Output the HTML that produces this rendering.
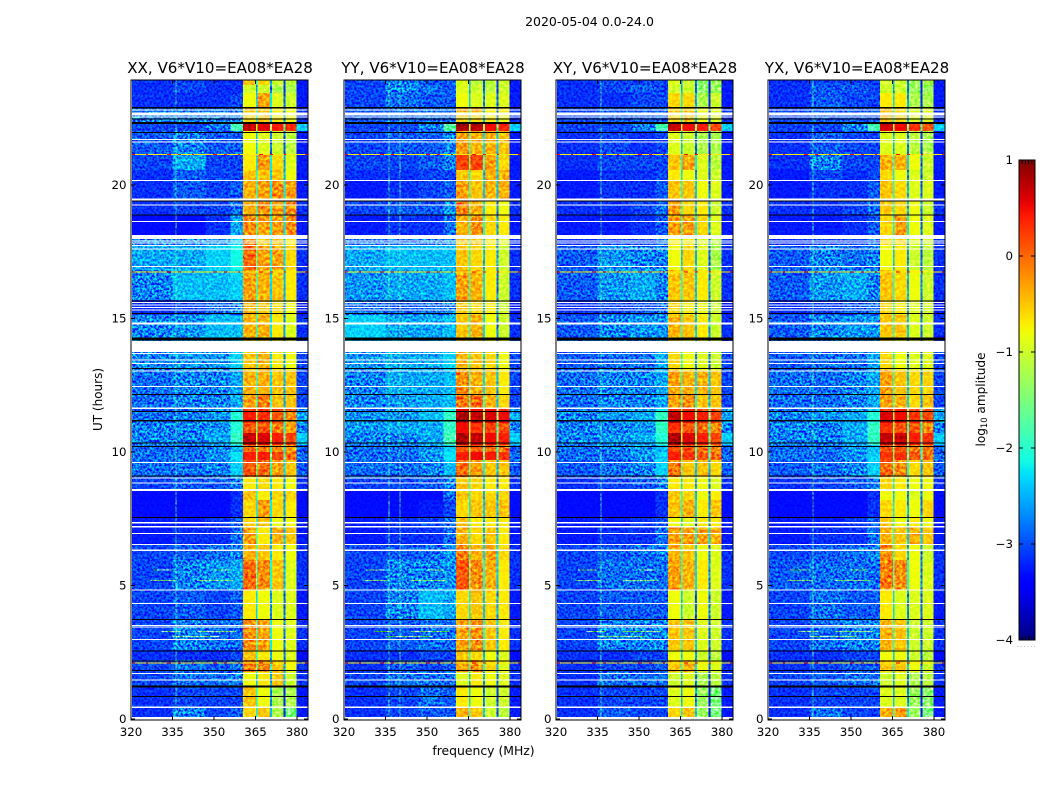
<!DOCTYPE html>
<html lang="en">
<head>
<meta charset="utf-8">
<title>2020-05-04 0.0-24.0 dynamic spectra</title>
<style>
html,body{margin:0;padding:0;background:#fff;}
svg{display:block;}
text{font-family:"DejaVu Sans","Liberation Sans",sans-serif;fill:#000;}
</style>
</head>
<body>
<svg id="chart" xmlns="http://www.w3.org/2000/svg" width="1050" height="800" viewBox="0 0 1050 800">
  <defs>
    <filter id="speckle" filterUnits="objectBoundingBox" x="0" y="0" width="1" height="1" color-interpolation-filters="sRGB">
      <feTurbulence type="fractalNoise" baseFrequency="0.42" numOctaves="2" seed="7"/>
      <feColorMatrix type="matrix" values="2.4 0 0 0 -0.7  2.4 0 0 0 -0.7  2.4 0 0 0 -0.7  0 0 0 0 1"/>
    </filter>
    <filter id="speckle-soft" filterUnits="objectBoundingBox" x="0" y="0" width="1" height="1" color-interpolation-filters="sRGB">
      <feTurbulence type="fractalNoise" baseFrequency="0.33" numOctaves="2" seed="11"/>
      <feColorMatrix type="matrix" values="1.5 0 0 0 -0.25  1.5 0 0 0 -0.25  1.5 0 0 0 -0.25  0 0 0 0 1"/>
    </filter>
    <linearGradient id="jet-gradient" x1="0" y1="1" x2="0" y2="0"></linearGradient>
  </defs>
  <rect width="1050" height="800" fill="#fff"/>
  <text x="589.5" y="26" text-anchor="middle" font-size="12.5">2020-05-04 0.0-24.0</text>
  <text x="483.5" y="755" text-anchor="middle" font-size="12.4">frequency (MHz)</text>
  <text transform="translate(102,399.5) rotate(-90)" text-anchor="middle" font-size="12">UT (hours)</text>
  <text transform="translate(985,399.5) rotate(-90)" text-anchor="middle" font-size="12.1">log<tspan font-size="8.4" dy="2">10</tspan><tspan dy="-2"> amplitude</tspan></text>
  <text x="1017" y="647" font-size="6" letter-spacing="1.4" style="fill:#777">......</text>
  <g id="panels"></g>
  <g id="colorbar"></g>
</svg>
<script>
const panelTitles = ["XX, V6*V10=EA08*EA28", "YY, V6*V10=EA08*EA28", "XY, V6*V10=EA08*EA28", "YX, V6*V10=EA08*EA28"];
const freqTicks = [320, 335, 350, 365, 380];
const hourTicks = [0, 5, 10, 15, 20];
const colorbarTicks = [1, 0, -1, -2, -3, -4];
const colorbarMinor = [0.2, 0.4, 0.6, 0.8];

/* frequency channel edges, MHz: 4 low zones, band, gap, band, gap, band, gap, band, tail */
const freqEdges = [320.3, 335, 347, 356, 360.5, 365.1, 365.8, 370.2, 370.9, 375.2, 375.9, 379.9, 384];
/* time bin edges, UT hours */
const timeEdges = [0.07,0.45,1.24,1.76,2.21,2.58,3.71,4.83,5.96,6.52,7.19,7.57,8.20,8.58,9.06,9.70,10.0,10.26,10.71,11.09,11.50,11.65,12.13,13.07,13.75,14.19,15.13,15.69,16.82,17.75,18.13,18.88,19.44,20.19,20.56,21.16,22.02,22.28,22.73,22.92,23.45,23.75,23.93];

/* log10 amplitude per time bin: low1, low2, low3, low4, band1, band2, band3, band4 */
const xxLevels = [
[-3.0,-2.6,-2.9,-2.8,-.6,-.5,-1.2,-1.5],[-3.0,-2.9,-2.9,-2.9,-.5,-.8,-1.2,-1.2],[-2.9,-2.7,-2.7,-2.6,-.8,-.7,-.5,-1.0],[-2.9,-2.7,-2.8,-2.7,-.1,-.1,-.5,-.8],[-3.0,-3.0,-3.0,-2.9,-.5,-.7,-.8,-.9],[-2.9,-2.6,-2.7,-2.7,-.2,-.3,-.8,-.9],[-2.9,-2.8,-2.9,-2.8,-.7,-.8,-.9,-.9],
[-2.9,-2.6,-2.5,-2.4,0,-.2,-.5,-.9],[-2.9,-2.8,-2.7,-2.6,-.4,-.5,-.7,-.8],[-3.1,-3.0,-3.0,-2.7,-.3,-.7,-.4,-.5],[-3.1,-3.1,-3.0,-2.8,-.6,-.5,-.8,-.8],[-3.3,-3.3,-3.2,-3.0,-.6,-.3,-.6,-.7],[-3.3,-3.3,-3.2,-3.0,-.5,-.7,-.6,-.6],[-2.9,-2.8,-2.8,-2.6,-.7,-.6,-.7,-.8],
[-2.7,-2.7,-2.6,-2.2,.1,0,-.3,-.5],[-2.7,-2.7,-2.5,-2.1,.4,.4,.2,0],[-2.7,-2.7,-2.6,-2.3,0,-.1,-.2,-.3],[-2.6,-2.6,-2.4,-1.8,.7,.6,.4,.2],[-2.6,-2.6,-2.5,-1.9,.1,.1,-.1,-.3],[-2.7,-2.6,-2.5,-1.9,.4,.3,.1,-.2],[-2.8,-2.7,-2.6,-2.2,.3,.3,.2,.1],
[-2.7,-2.6,-2.6,-2.4,-.3,-.1,-.5,-.5],[-2.7,-2.6,-2.6,-2.4,-.4,-.4,-.5,-.5],[-2.6,-2.5,-2.5,-2.2,-.5,-.4,-.7,-.8],[-2.5,-2.4,-2.4,-2.2,-.5,-.5,-.7,-.9],[-2.6,-2.5,-2.3,-2.3,-.4,-.4,-.7,-.9],[-3.0,-2.9,-2.7,-2.6,-.4,-.5,-.6,-.8],[-2.6,-2.3,-2.3,-2.2,-.3,-.4,-.5,-.7],
[-2.4,-2.4,-2.2,-2.0,0,-.3,-.3,-.6],[-2.6,-2.6,-2.5,-2.2,-.1,-.5,-.5,-.7],[-3.2,-3.2,-3.0,-2.4,-.2,-.3,-.3,-.2],[-3.0,-2.9,-2.9,-2.7,-.4,-.2,-.3,-.2],[-3.0,-2.8,-2.9,-2.8,-.4,-.3,-.2,-.3],[-3.0,-2.8,-2.9,-2.9,-.5,-.5,-.5,-.8],[-2.9,-2.4,-2.9,-2.9,-.7,-.3,-.6,-.9],
[-2.8,-2.6,-2.8,-2.8,-.8,-.9,-1.0,-1.1],[-2.9,-2.9,-2.7,-1.7,.7,.6,.4,.3],[-2.6,-2.6,-2.6,-2.6,-.6,-.5,-.7,-.8],[-2.7,-2.7,-2.7,-2.7,-.5,-.5,-.7,-.8],[-3.0,-3.0,-3.0,-2.9,-.8,-.3,-.9,-1.0],[-3.0,-2.9,-3.0,-3.0,-1.0,-1.0,-1.2,-1.2],[-3.0,-2.9,-3.0,-3.0,-.5,-.6,-1.0,-1.1]];
const yyLevels = [
[-3.0,-2.9,-2.8,-2.8,-.4,-.5,-1.0,-1.1],[-3.0,-2.9,-2.7,-2.8,-.7,-.8,-1.0,-1.0],[-2.9,-2.7,-2.7,-2.7,-.9,-.7,-.8,-.9],[-3.0,-2.8,-2.9,-2.8,-.3,-.2,-.6,-.9],[-3.0,-3.0,-2.9,-2.9,-.5,-.6,-.8,-.9],[-2.9,-2.8,-2.7,-2.7,-.3,-.2,-.5,-.7],[-2.9,-2.6,-2.3,-2.4,-.6,-.5,-.6,-.7],
[-2.9,-2.6,-2.6,-2.5,.1,-.2,-.4,-.7],[-2.9,-2.8,-2.7,-2.5,-.1,-.4,-.3,-.6],[-3.1,-3.0,-3.0,-2.7,-.4,-.6,-.5,-.7],[-3.1,-3.0,-2.9,-2.7,-.5,-.7,-.7,-.7],[-3.3,-3.3,-3.1,-2.9,-.6,-.5,-.5,-.5],[-3.3,-3.3,-3.2,-2.7,-.5,-.6,-.6,-.6],[-2.9,-2.9,-2.8,-2.6,-.5,-.6,-.7,-.7],
[-2.7,-2.7,-2.6,-2.3,0,-.3,-.5,-.5],[-2.7,-2.7,-2.5,-2.1,.4,.5,.4,.3],[-2.7,-2.7,-2.5,-2.2,.1,.1,0,-.1],[-2.6,-2.6,-2.4,-1.7,.8,.7,.5,.4],[-2.5,-2.4,-2.4,-1.8,.5,.3,.2,.1],[-2.5,-2.5,-2.3,-1.8,.8,.7,.6,.5],[-2.7,-2.6,-2.4,-2.0,.6,.5,.5,.3],
[-2.6,-2.5,-2.4,-2.3,-.1,0,-.4,-.6],[-2.6,-2.4,-2.4,-2.3,-.2,-.4,-.5,-.7],[-2.5,-2.4,-2.4,-2.2,-.4,-.5,-.6,-.8],[-2.3,-2.3,-2.3,-2.2,-.5,-.5,-.7,-.9],[-2.2,-2.4,-2.4,-2.3,-.5,-.4,-.8,-1.0],[-2.7,-2.8,-2.7,-2.6,-.5,-.6,-.7,-1.0],[-2.5,-2.4,-2.4,-2.3,-.3,-.4,-.7,-1.0],
[-2.4,-2.3,-2.3,-2.3,-.5,-.6,-.7,-1.0],[-2.7,-2.7,-2.6,-2.5,-.5,-.5,-.7,-.9],[-3.1,-3.0,-3.0,-2.7,-.4,-.2,-.6,-.7],[-2.9,-2.8,-2.8,-2.5,-.1,-.4,-.7,-.8],[-3.1,-3.0,-2.9,-2.8,-.3,-.5,-.4,-.4],[-3.0,-3.0,-2.9,-2.9,-.5,-.6,-.4,-.4],[-2.9,-2.9,-2.8,-2.6,.2,.2,-.3,-.6],
[-2.9,-2.8,-2.8,-2.6,-.3,-.4,-.4,-.5],[-2.9,-2.9,-2.6,-1.6,.8,.75,.5,.35],[-2.8,-2.7,-2.7,-2.7,-.6,-.6,-.7,-.8],[-2.8,-2.7,-2.7,-2.7,-.4,-.4,-.7,-.7],[-2.9,-2.7,-2.8,-2.8,-.8,-.9,-.9,-.9],[-2.9,-2.6,-2.7,-2.8,-.9,-1.0,-1.1,-1.0],[-2.9,-2.6,-2.8,-2.8,-.9,-1.1,-1.1,-1.0]];
const xyLevels = [
[-3.0,-2.8,-2.9,-2.9,-.6,-.5,-1.3,-1.5],[-3.0,-2.9,-2.9,-2.9,-.9,-.8,-1.3,-1.5],[-3.0,-2.7,-2.7,-2.7,-1.0,-.9,-1.2,-1.1],[-3.0,-2.9,-2.9,-2.8,-.5,-.4,-.8,-.9],[-3.0,-3.0,-2.9,-2.9,-.8,-.8,-1.0,-1.1],[-2.9,-2.6,-2.6,-2.6,-.5,-.5,-.9,-1.0],[-2.9,-2.8,-2.8,-2.8,-.8,-1.0,-.8,-1.0],
[-2.9,-2.7,-2.7,-2.7,-.3,-.4,-.7,-.9],[-2.9,-2.8,-2.7,-2.6,-.4,-.5,-.8,-.9],[-3.1,-3.0,-3.0,-2.7,-.3,-.3,-.3,-.4],[-3.1,-3.1,-3.0,-2.8,-.8,-.9,-.7,-.7],[-3.3,-3.3,-3.2,-3.0,-.5,-.4,-.7,-.5],[-3.3,-3.3,-3.2,-3.0,-.5,-.6,-.8,-.7],[-3.0,-2.9,-2.8,-2.6,-.7,-.7,-.8,-.9],
[-2.8,-2.7,-2.6,-2.2,-.1,-.5,-.5,-.6],[-2.7,-2.7,-2.5,-2.2,.4,.3,.1,0],[-2.7,-2.6,-2.5,-2.3,.2,.1,-.1,-.2],[-2.6,-2.5,-2.4,-1.9,.8,.6,.4,.2],[-2.6,-2.6,-2.5,-1.8,.3,.1,0,-.2],[-2.6,-2.5,-2.4,-1.8,.7,.5,.4,.2],[-2.7,-2.6,-2.5,-2.1,.3,.4,.2,0],
[-2.7,-2.6,-2.6,-2.4,-.3,-.2,-.5,-.5],[-2.7,-2.6,-2.6,-2.4,-.3,-.4,-.4,-.5],[-2.8,-2.7,-2.7,-2.4,-.6,-.8,-.9,-1.0],[-2.7,-2.6,-2.6,-2.4,-.6,-.8,-.9,-1.0],[-2.8,-2.6,-2.5,-2.5,-.4,-.5,-.7,-1.0],[-3.0,-2.9,-2.8,-2.7,-.6,-.7,-.8,-1.0],[-2.8,-2.5,-2.4,-2.6,-.5,-.5,-.7,-1.0],
[-2.8,-2.5,-2.6,-2.6,-.8,-.6,-.9,-1.2],[-3.0,-2.9,-2.9,-2.7,-.7,-.7,-.9,-1.1],[-3.1,-3.1,-3.0,-2.8,-.3,-.3,-.6,-.9],[-3.0,-3.0,-2.9,-2.7,-.3,-.6,-.7,-1.0],[-3.1,-3.0,-3.0,-2.8,-.5,-.5,-.8,-.9],[-3.1,-3.0,-3.0,-2.9,-.7,-.8,-.9,-1.0],[-3.0,-2.9,-2.9,-2.9,-.5,-.3,-.9,-1.1],
[-3.0,-2.9,-3.0,-2.9,-.9,-1.0,-1.2,-1.2],[-2.9,-2.9,-2.6,-1.7,.7,.5,.4,.2],[-2.9,-2.8,-2.8,-2.8,-.6,-.5,-.8,-.9],[-2.9,-2.8,-2.8,-2.8,-.5,-.5,-.8,-.9],[-3.0,-3.0,-2.9,-2.9,-.6,-.6,-1.2,-1.0],[-3.0,-2.9,-2.8,-2.9,-1.0,-1.0,-1.4,-1.3],[-3.0,-2.9,-2.9,-2.9,-.9,-1.0,-1.4,-1.3]];
const yxLevels = [
[-3.0,-2.7,-2.9,-2.9,-.4,-.3,-1.3,-1.5],[-3.0,-2.9,-2.9,-2.9,-.9,-.9,-1.3,-1.4],[-2.9,-2.8,-2.7,-2.7,-1.0,-.9,-1.2,-1.1],[-3.0,-2.9,-2.8,-2.8,-.5,-.5,-.8,-1.0],[-3.0,-3.0,-2.9,-2.9,-.8,-.8,-1.0,-1.1],[-2.9,-2.7,-2.6,-2.6,-.4,-.5,-1.0,-1.0],[-2.9,-2.7,-2.8,-2.8,-.7,-.9,-.9,-.9],
[-2.8,-2.7,-2.7,-2.7,-.1,-.2,-.8,-.9],[-2.9,-2.8,-2.7,-2.6,-.2,-.6,-.8,-1.0],[-3.1,-3.0,-3.0,-2.7,-.4,-.5,-.4,-.5],[-3.1,-3.1,-3.0,-2.8,-.5,-.8,-.7,-.8],[-3.3,-3.3,-3.2,-3.0,-.6,-.7,-.8,-.6],[-3.3,-3.3,-3.2,-3.0,-.8,-.8,-.9,-.8],[-3.0,-2.9,-2.8,-2.6,-.6,-.7,-.8,-.8],
[-2.8,-2.7,-2.6,-2.2,0,-.2,-.6,-.5],[-2.7,-2.7,-2.5,-2.2,.3,.3,.1,0],[-2.7,-2.7,-2.5,-2.3,.1,.1,-.1,-.1],[-2.6,-2.6,-2.4,-1.8,.7,.7,.4,.3],[-2.6,-2.6,-2.4,-1.8,.3,.1,.1,-.2],[-2.6,-2.5,-2.4,-1.9,.6,.5,.3,.2],[-2.7,-2.6,-2.5,-2.2,.3,.4,.1,0],
[-2.7,-2.7,-2.6,-2.4,-.3,-.4,-.6,-.5],[-2.7,-2.7,-2.6,-2.4,-.3,-.5,-.6,-.6],[-2.8,-2.7,-2.7,-2.4,-.6,-.8,-.9,-.9],[-2.7,-2.6,-2.6,-2.4,-.6,-.8,-.9,-1.0],[-2.8,-2.6,-2.5,-2.5,-.5,-.5,-.9,-1.0],[-3.0,-2.9,-2.8,-2.7,-.6,-.7,-.9,-1.0],[-2.8,-2.5,-2.4,-2.6,-.5,-.6,-.8,-1.0],
[-2.8,-2.6,-2.7,-2.6,-.8,-.7,-1.0,-1.1],[-3.0,-2.9,-2.9,-2.7,-.6,-.6,-.9,-1.0],[-3.1,-3.1,-3.0,-2.8,-.6,-.3,-.8,-.9],[-3.0,-3.0,-2.9,-2.7,-.5,-.6,-.8,-1.0],[-3.1,-3.0,-3.0,-2.8,-.5,-.6,-.9,-.9],[-3.1,-2.9,-3.0,-2.9,-.6,-.8,-.9,-1.0],[-3.0,-2.6,-2.9,-2.9,-.4,-.4,-.8,-1.0],
[-3.0,-2.8,-2.9,-2.9,-.9,-.9,-1.1,-1.2],[-2.9,-2.9,-2.6,-1.7,.6,.5,.3,.1],[-2.9,-2.8,-2.8,-2.8,-.5,-.6,-.9,-.9],[-2.9,-2.8,-2.8,-2.8,-.5,-.6,-.9,-.9],[-3.0,-2.8,-2.9,-2.9,-.7,-.7,-1.2,-1.2],[-3.0,-2.8,-2.8,-2.9,-1.0,-1.0,-1.3,-1.3],[-3.0,-2.9,-2.9,-2.9,-1.0,-1.0,-1.3,-1.2]];
const panelLevels = [xxLevels, yyLevels, xyLevels, yxLevels];
const tailLevels = [-3.1,-3.1,-3,-3,-3.2,-3,-3.1,-3,-3,-3.1,-3.1,-3.3,-3.3,-3,-2.8,-2.7,-2.8,-2.2,-2.6,-2.4,-2.6,-2.9,-2.9,-2.9,-2.9,-3,-3.1,-3,-3,-3,-3.1,-3,-3.1,-3.1,-3.1,-3.1,-2.2,-3,-3,-3.1,-3.1,-3.1];
/* how far the narrow channels between bands sit below the band on their left */
const gapDrops = [1.6, 1.9, 2.0];
/* low band calibration trim in log10 units */
const lowBandTrim = -0.15;
const lowBandFloor = -3.32;

/* flagged time ranges [low hour, high hour] */
const flaggedWhite = [[.42,.46],[1.44,1.48],[1.69,1.73],[2.97,3.0],[3.43,3.46],[3.49,3.53],[4.31,4.35],[4.81,4.85],[6.3,6.34],[6.52,6.56],[6.94,6.97],[7.18,7.22],[7.33,7.37],[8.54,8.61],[8.82,8.86],[9.01,9.05],[9.6,9.63],[11.62,11.66],[12.44,12.48],[13.01,13.05],[13.3,13.34],[13.43,13.46],[13.67,13.71],[13.75,14.16],[14.78,14.85],[15.3,15.34],[15.39,15.43],[15.49,15.52],[15.58,15.62],[16.94,16.97],[17.58,17.62],[17.72,17.75],[17.8,17.84],[17.9,17.93],[17.98,18.13],[18.61,18.66],[19.23,19.27],[19.42,19.49],[20.15,20.19],[21.59,21.63],[21.69,21.72],[22.53,22.56],[22.6,22.71],[22.79,22.83]];
const flaggedBlack = [[.83,.87],[1.18,1.26],[1.79,1.83],[2.16,2.2],[2.53,2.57],[3.71,3.75],[7.53,7.57],[9.08,9.12],[10.18,10.22],[10.31,10.35],[11.15,11.19],[11.5,11.54],[12.14,12.18],[13.11,13.15],[14.18,14.28],[15.17,15.21],[15.64,15.68],[18.85,18.89],[19.38,19.42],[21.95,21.99],[22.28,22.36],[22.45,22.49],[22.87,22.93]];
/* broadband interference rows, UT hours */
const speckleHours = [2.09, 16.75, 19.25, 21.15];
/* narrow interference channels per panel, MHz */
const xxChannels = [336];
const yyChannels = [336, 340];
const xyChannels = [336];
const yxChannels = [336];
const panelChannels = [xxChannels, yyChannels, xyChannels, yxChannels];
/* short interference segments: [hour, start MHz, end MHz] */
const shortSegments = [[5.6,328,335],[5.6,350,356],[5.2,327,336],[5.2,344,357],[3.3,331,338],[3.3,344,358],[3.1,335,352]];

const panelLefts = [131, 344, 556, 768];
const NS = 'http://www.w3.org/2000/svg';
const vmin = -4, vmax = 1;

function X(f, left) { return left + (f - 320) * 2.767; }
function Y(h) { return 719 - 26.7 * h; }
function CY(v) { return 640 - (v - vmin) / (vmax - vmin) * 480; }

function lerp(pts, t) {
  for (let i = 1; i < pts.length; i++) {
    if (t <= pts[i][0]) {
      const a = pts[i - 1], b = pts[i];
      return a[1] + (b[1] - a[1]) * (t - a[0]) / (b[0] - a[0]);
    }
  }
  return pts[pts.length - 1][1];
}
const jetR = [[0,0],[.35,0],[.66,1],[.89,1],[1,.5]];
const jetG = [[0,0],[.125,0],[.375,1],[.64,1],[.91,0],[1,0]];
const jetB = [[0,.5],[.11,1],[.34,1],[.65,0],[1,0]];
function jet(t) {
  t = Math.max(0, Math.min(1, t));
  return 'rgb(' + Math.round(255 * lerp(jetR, t)) + ',' + Math.round(255 * lerp(jetG, t)) + ',' + Math.round(255 * lerp(jetB, t)) + ')';
}
function color(v) { return jet((v - vmin) / (vmax - vmin)); }
function trimLow(v) { return Math.max(v + lowBandTrim, lowBandFloor); }
function node(tag, parent, attrs) {
  const el = document.createElementNS(NS, tag);
  for (const k in attrs) el.setAttribute(k, attrs[k]);
  parent.appendChild(el);
  return el;
}

const panelsRoot = document.getElementById('panels');
panelLefts.forEach(function (left, p) {
  const g = node('g', panelsRoot, {});
  
  

  const heat = node('g', g, { 'shape-rendering': 'crispEdges', style: 'isolation:isolate' });
  
  
  const rows = panelLevels[p];

  for (let r = 0; r < timeEdges.length - 1; r++) {
    const row = rows[r];
    const vals = [trimLow(row[0]), trimLow(row[1]), trimLow(row[2]), trimLow(row[3]),
      row[4], row[4] - gapDrops[0],
      row[5], row[5] - gapDrops[1],
      row[6], row[6] - gapDrops[2],
      row[7], trimLow(tailLevels[r])];
    for (let c = 0; c < vals.length; c++) {
      const cell = node('rect', heat, {
        x: X(freqEdges[c], left).toFixed(2),
        y: Y(timeEdges[r + 1]).toFixed(2),
        width: (X(freqEdges[c + 1], left) - X(freqEdges[c], left)).toFixed(2),
        height: (Y(timeEdges[r]) - Y(timeEdges[r + 1])).toFixed(2),
        fill: color(vals[c])
      });
      
      
    }
  }

  panelChannels[p].forEach(function (f) {
    const ch = node('rect', heat, { x: X(f, left).toFixed(1), y: Y(23.93), width: 1, height: Y(0.07) - Y(23.93), fill: color(-1.7), 'fill-opacity': .6 });
    
    
  });
  shortSegments.forEach(function (s) {
    const seg = node('rect', heat, { x: X(s[1], left).toFixed(1), y: Y(s[0]).toFixed(1), width: (X(s[2], left) - X(s[1], left)).toFixed(1), height: 1, fill: color(-1.3), 'fill-opacity': .75 });
    
    
  });

  const bandStart = X(freqEdges[4], left), bandEnd = X(freqEdges[11], left);
  const noiseLow = node('rect', heat, { x: left + 1, y: 80, width: bandStart - left - 1, height: 637, fill: '#888', filter: 'url(#speckle)', style: 'mix-blend-mode:overlay' });
  
  
  const noiseBand = node('rect', heat, { x: bandStart, y: 80, width: bandEnd - bandStart, height: 637, fill: '#888', filter: 'url(#speckle-soft)', style: 'mix-blend-mode:overlay' });
  
  
  const noiseTail = node('rect', heat, { x: bandEnd, y: 80, width: left + 177 - bandEnd, height: 637, fill: '#888', filter: 'url(#speckle)', style: 'mix-blend-mode:overlay' });
  
  

  speckleHours.forEach(function (h) {
    const base = node('line', g, { x1: left + 1, x2: left + 177, y1: Y(h), y2: Y(h), stroke: '#ffee00', 'stroke-width': 1, 'shape-rendering': 'crispEdges' });
    
    
    const dash = node('line', g, { x1: left + 1, x2: left + 177, y1: Y(h), y2: Y(h), stroke: '#f01000', 'stroke-width': 1, 'stroke-dasharray': '3 11 2 19 4 7', 'shape-rendering': 'crispEdges' });
    
    
  });

  flaggedWhite.forEach(function (b) {
    const w = node('rect', g, { x: left + 1, y: Y(b[1]).toFixed(2), width: 176, height: Math.max(1, Y(b[0]) - Y(b[1])).toFixed(2), fill: '#fff', 'shape-rendering': 'crispEdges' });
    
    
  });
  flaggedBlack.forEach(function (b) {
    const k = node('rect', g, { x: left + 1, y: Y(b[1]).toFixed(2), width: 176, height: Math.max(1, Y(b[0]) - Y(b[1])).toFixed(2), fill: '#000', 'shape-rendering': 'crispEdges' });
    
    
  });

  const frame = node('rect', g, { x: left, y: 80, width: 177, height: 640, fill: 'none', stroke: '#000', 'stroke-width': 1 });
  
  

  freqTicks.forEach(function (f) {
    const x = X(f, left);
    const bottom = node('line', g, { x1: x, x2: x, y1: 720, y2: 716, stroke: '#000', 'stroke-width': 1 });
    
    
    const top = node('line', g, { x1: x, x2: x, y1: 80, y2: 84, stroke: '#000', 'stroke-width': 1 });
    
    
    const label = node('text', g, { x: x, y: 736, 'text-anchor': 'middle', 'font-size': 11.8 });
    label.textContent = String(f);
    
    
  });
  hourTicks.forEach(function (h) {
    const y = Y(h);
    const l = node('line', g, { x1: left, x2: left + 4, y1: y, y2: y, stroke: '#000', 'stroke-width': 1 });
    
    
    const r = node('line', g, { x1: left + 177, x2: left + 173, y1: y, y2: y, stroke: '#000', 'stroke-width': 1 });
    
    
    const label = node('text', g, { x: left - 4.5, y: y + 4, 'text-anchor': 'end', 'font-size': 11.8 });
    label.textContent = String(h);
    
    
  });

  const title = node('text', g, { x: left + 89, y: 73, 'text-anchor': 'middle', 'font-size': 15.1 });
  title.textContent = panelTitles[p];
  
  
});

/* colour bar */
const cb = document.getElementById('colorbar');
const grad = document.getElementById('jet-gradient');
for (let i = 0; i <= 60; i++) {
  node('stop', grad, { offset: (i / 60).toFixed(4), 'stop-color': jet(i / 60) });
}
const cbBody = node('rect', cb, { x: 1019, y: CY(vmax), width: 16, height: CY(vmin) - CY(vmax), fill: 'url(#jet-gradient)', stroke: '#000', 'stroke-width': 1 });


colorbarTicks.forEach(function (v) {
  const y = CY(v);
  if (v !== vmax && v !== vmin) {
    const tl = node('line', cb, { x1: 1019, x2: 1023, y1: y, y2: y, stroke: '#000', 'stroke-width': 1 });
    
    
    const tr = node('line', cb, { x1: 1035, x2: 1031, y1: y, y2: y, stroke: '#000', 'stroke-width': 1 });
    
    
  }
  const label = node('text', cb, { x: 1013, y: y + 4, 'text-anchor': 'end', 'font-size': 11.8 });
  label.textContent = v < 0 ? '\u2212' + Math.abs(v) : String(v);
  
  
});
colorbarMinor.forEach(function (m) {
  const x = 1019 + 16 * m;
  const a = node('line', cb, { x1: x, x2: x, y1: 160, y2: 164, stroke: '#000', 'stroke-width': 1 });
  
  
  const b = node('line', cb, { x1: x, x2: x, y1: 640, y2: 636, stroke: '#000', 'stroke-width': 1 });
  
  
});
</script>
</body>
</html>
